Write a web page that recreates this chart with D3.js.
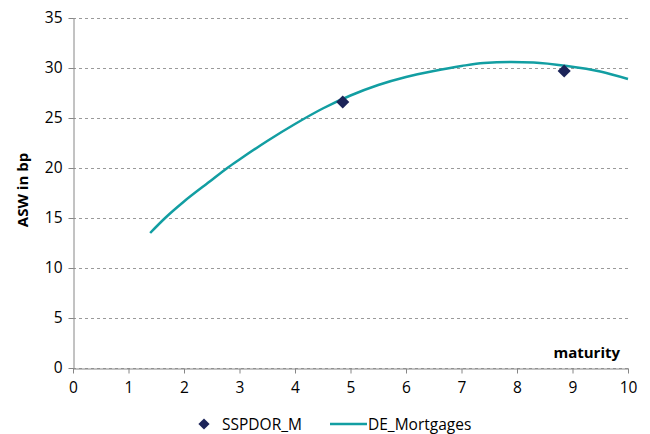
<!DOCTYPE html>
<html><head><meta charset="utf-8">
<script src="https://cdn.jsdelivr.net/npm/d3@7"></script>
<style>body{margin:0;background:#fff;} text{font-family:"Open Sans",Arial,sans-serif;}</style>
</head><body><svg id="c" width="650" height="434"></svg>
<script>
const curveX = [1.39,1.66,2,2.5,2.78,3,3.5,4,4.5,5,5.5,6,6.5,7,7.4,7.9,8.3,8.9,9.5,10];
const curveY = [13.5,15.0,16.65,18.8,20.0,20.85,22.7,24.4,25.95,27.25,28.3,29.1,29.7,30.2,30.5,30.6,30.55,30.2,29.65,28.9];
const pointX = [4.86,8.85];
const pointY = [26.6,29.7];
const xTicks = [0,1,2,3,4,5,6,7,8,9,10];
const yTicks = [0,5,10,15,20,25,30,35];
const seriesNames = ["SSPDOR_M","DE_Mortgages"];

const svg = d3.select("#c");
const x = d3.scaleLinear().domain([0,10]).range([73,628]);
const y = d3.scaleLinear().domain([0,35]).range([368,18]);

svg.append("g").selectAll("line").data(yTicks).join("line")
  .attr("x1",x(0)).attr("x2",x(10)).attr("y1",d=>y(d)+0.5).attr("y2",d=>y(d)+0.5)
  .attr("stroke","#9a9a9a").attr("stroke-dasharray","3,3").attr("stroke-width",1);

const ya = svg.append("g").attr("transform",`translate(${x(0)+0.5},0)`)
  .call(d3.axisLeft(y).tickValues(yTicks).tickSize(5).tickSizeOuter(0).tickPadding(6));
ya.select(".domain").attr("stroke","#868686");
ya.selectAll(".tick line").attr("stroke","#868686");
ya.selectAll("text").attr("font-size",15.5).attr("fill","#000");

const xa = svg.append("g").attr("transform",`translate(0,${y(0)+0.5})`)
  .call(d3.axisBottom(x).tickValues(xTicks).tickSize(5).tickSizeOuter(0).tickPadding(8));
xa.select(".domain").attr("stroke","#868686");
xa.selectAll(".tick line").attr("stroke","#868686");
xa.selectAll("text").attr("font-size",15.5).attr("fill","#000");

const pts = curveX.map((d,i)=>[d,curveY[i]]);
svg.append("path").datum(pts)
  .attr("d",d3.line().x(d=>x(d[0])).y(d=>y(d[1])).curve(d3.curveMonotoneX))
  .attr("fill","none").attr("stroke","#129ea2").attr("stroke-width",2.5);

const diamond = d3.symbol().type(d3.symbolDiamond2).size(110);
svg.append("g").selectAll("path").data(pointX.map((d,i)=>[d,pointY[i]])).join("path")
  .attr("d",diamond).attr("transform",d=>`translate(${x(d[0])},${y(d[1])})`)
  .attr("fill","#1c2459");

svg.append("text").attr("x",620).attr("y",358).attr("text-anchor","end")
  .attr("font-size",15).attr("font-weight","bold").text("maturity");
svg.append("text").attr("transform","translate(28,190) rotate(-90)").attr("text-anchor","middle")
  .attr("font-size",15).attr("font-weight","bold").text("ASW in bp");

const lg = svg.append("g");
lg.append("path").attr("d",d3.symbol().type(d3.symbolDiamond2).size(80)).attr("transform","translate(204,424)").attr("fill","#1c2459");
lg.append("text").attr("x",222).attr("y",429.5).attr("font-size",15.5).text(seriesNames[0]);
lg.append("line").attr("x1",330).attr("x2",367).attr("y1",424).attr("y2",424).attr("stroke","#129ea2").attr("stroke-width",2.5);
lg.append("text").attr("x",368).attr("y",429.5).attr("font-size",15.5).text(seriesNames[1]);
</script></body></html>
